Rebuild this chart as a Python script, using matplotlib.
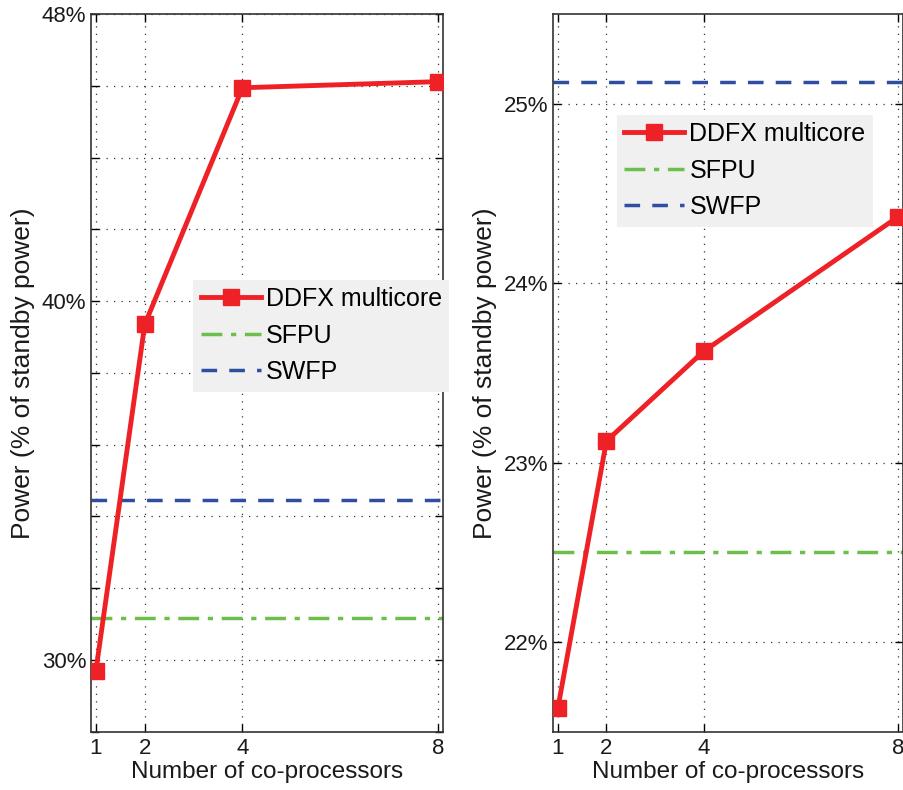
import matplotlib
matplotlib.use("Agg")
import matplotlib.pyplot as plt
import numpy as np

plt.rcParams["font.family"] = ["Liberation Sans", "DejaVu Sans"]

# data
cores = [1, 2, 4, 8]
left_ddfx = [29.7, 39.35, 45.95, 46.12]
left_sfpu = 31.17
left_swfp = 34.45
right_ddfx = [21.63, 23.12, 23.62, 24.37]
right_sfpu = 22.5
right_swfp = 25.12

left_yticks = [28, 30, 32, 34, 36, 38, 40, 42, 44, 46, 48]
left_ylabels = ["", "30%", "", "", "", "", "40%", "", "", "", "48%"]
right_yticks = [22, 23, 24, 25]
right_ylabels = ["22%", "23%", "24%", "25%"]

RED = "#ee2226"
GREEN = "#6cbf4a"
BLUE = "#2f4ea2"


def draw(ax, ddfx, sfpu, swfp, ylim, yticks, ylabels, legend_anchor):
    ax.plot(cores, ddfx, color=RED, lw=3.5, marker="s", ms=11,
            label="DDFX multicore", zorder=5)
    ax.axhline(sfpu, color=GREEN, lw=2.5, ls=(0, (6, 2.5, 1.5, 2.5)), label="SFPU")
    ax.axhline(swfp, color=BLUE, lw=2.5, ls=(0, (4.5, 3.5)), label="SWFP")
    ax.set_xlim(0.9, 8.1)
    ax.set_ylim(*ylim)
    ax.set_xticks(cores)
    ax.set_yticks(yticks)
    ax.set_yticklabels(ylabels)
    ax.grid(True, ls=(0, (1, 5)), color="#333333", lw=0.9)
    ax.tick_params(direction="in", length=6, top=True, right=True,
                   labelsize=16, width=1, labelcolor="#1a1a1a")
    ax.tick_params(axis="x", pad=5)
    for s in ax.spines.values():
        s.set_color("#333333")
        s.set_linewidth(1.2)
    ax.set_xlabel("Number of co-processors", fontsize=17.5, labelpad=1,
                  color="#1a1a1a")
    ax.set_ylabel("Power (% of standby power)", fontsize=19, labelpad=5,
                  color="#1a1a1a")
    leg = ax.legend(loc="upper left", bbox_to_anchor=legend_anchor, fontsize=18,
                    frameon=True, fancybox=False, handlelength=2.4,
                    handletextpad=0.2, labelspacing=0.5, borderpad=0.3,
                    borderaxespad=0)
    leg.get_frame().set_facecolor("#f0f0f0")
    leg.get_frame().set_edgecolor("none")
    leg.get_frame().set_alpha(1)


fig = plt.figure(figsize=(9.04, 7.9), dpi=100)
ax1 = fig.add_axes([0.1007, 0.074, 0.389, 0.908])
ax2 = fig.add_axes([0.6117, 0.074, 0.387, 0.908])

draw(ax1, left_ddfx, left_sfpu, left_swfp, (28, 48), left_yticks, left_ylabels,
     (0.29, 0.63))
draw(ax2, right_ddfx, right_sfpu, right_swfp, (21.5, 25.5), right_yticks,
     right_ylabels, (0.183, 0.86))

fig.savefig("out.png", dpi=100)
